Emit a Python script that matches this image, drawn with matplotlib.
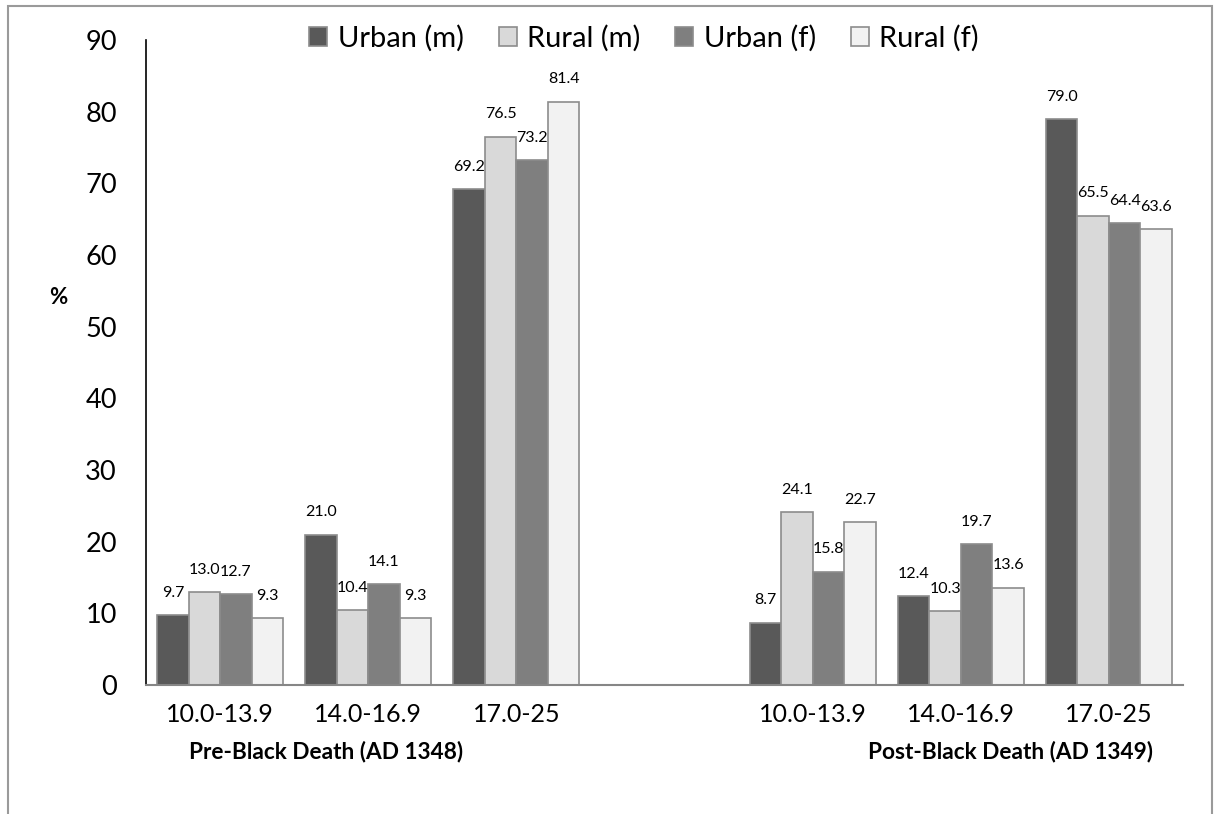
import numpy as np
import matplotlib
matplotlib.use("Agg")
import matplotlib.pyplot as plt
from matplotlib.patches import Rectangle

plt.rcParams['font.family'] = ['Lato', 'DejaVu Sans']

# data
series = ["Urban (m)", "Rural (m)", "Urban (f)", "Rural (f)"]
age_groups = ["10.0-13.9", "14.0-16.9", "17.0-25"]
periods = ["Pre-Black Death (AD 1348)", "Post-Black Death (AD 1349)"]

pre_values = [
    [9.7, 21.0, 69.2],   # Urban (m)
    [13.0, 10.4, 76.5],  # Rural (m)
    [12.7, 14.1, 73.2],  # Urban (f)
    [9.3, 9.3, 81.4],    # Rural (f)
]
post_values = [
    [8.7, 12.4, 79.0],
    [24.1, 10.3, 65.5],
    [15.8, 19.7, 64.4],
    [22.7, 13.6, 63.6],
]

colors = ["#595959", "#d9d9d9", "#7f7f7f", "#f2f2f2"]
edge = "#8c8c8c"

fig = plt.figure(figsize=(12.18, 8.14), dpi=100)
ax = fig.add_axes([146 / 1218, 1 - 685 / 814, (1183 - 146) / 1218, (685 - 40) / 814])

# 7 slots: 3 pre, 1 blank gap, 3 post
slots_pre = np.arange(3)
slots_post = np.arange(4, 7)
bar_w = 0.2125

for i, name in enumerate(series):
    off = (i - 1.5) * bar_w
    for slots, vals in ((slots_pre, pre_values[i]), (slots_post, post_values[i])):
        bars = ax.bar(slots + 0.5 + off, vals, width=bar_w, color=colors[i],
                      edgecolor=edge, linewidth=1.2,
                      label=name if slots is slots_pre else None)
        for b, v in zip(bars, vals):
            ax.annotate(f"{v:.1f}", (b.get_x() + b.get_width() / 2, v),
                        xytext=(0, 11), textcoords="offset points",
                        ha="center", va="bottom", fontsize=11.5, color="#000000")

ax.set_xlim(0, 7)
ax.set_ylim(0, 90)
ax.set_yticks(np.arange(0, 91, 10))
ax.tick_params(axis="y", length=0, pad=21, labelsize=19.5)
ax.set_xticks(np.concatenate([slots_pre, slots_post]) + 0.5)
ax.set_xticklabels(age_groups + age_groups)
ax.tick_params(axis="x", length=0, pad=13, labelsize=18)

for s in ("top", "right"):
    ax.spines[s].set_visible(False)
ax.spines["left"].set_color("#000000")
ax.spines["left"].set_linewidth(1.2)
ax.spines["bottom"].set_color("#868686")
ax.spines["bottom"].set_linewidth(1.5)

# group labels
fig.text(326 / 1218, 1 - 752 / 814, periods[0], ha="center", va="center",
         fontsize=16.3, fontweight="bold")
fig.text(1010 / 1218, 1 - 752 / 814, periods[1], ha="center", va="center",
         fontsize=16.3, fontweight="bold")

fig.text(58 / 1218, 1 - 298 / 814, "%", ha="center", va="center",
         fontsize=16, fontweight="bold")

fig.legend(loc="center", bbox_to_anchor=(644 / 1218, 1 - 38 / 814), ncol=4,
           frameon=False, fontsize=21, handlelength=0.62, handleheight=0.62,
           handletextpad=0.35, columnspacing=1.2)

# chart border
fig.patches.append(Rectangle((8 / 1218, -0.1), (1212 - 8) / 1218, 1 - 6 / 814 + 0.1,
                             transform=fig.transFigure, fill=False,
                             edgecolor="#9a9a9a", linewidth=1.5))

fig.savefig("out.png", dpi=100)
